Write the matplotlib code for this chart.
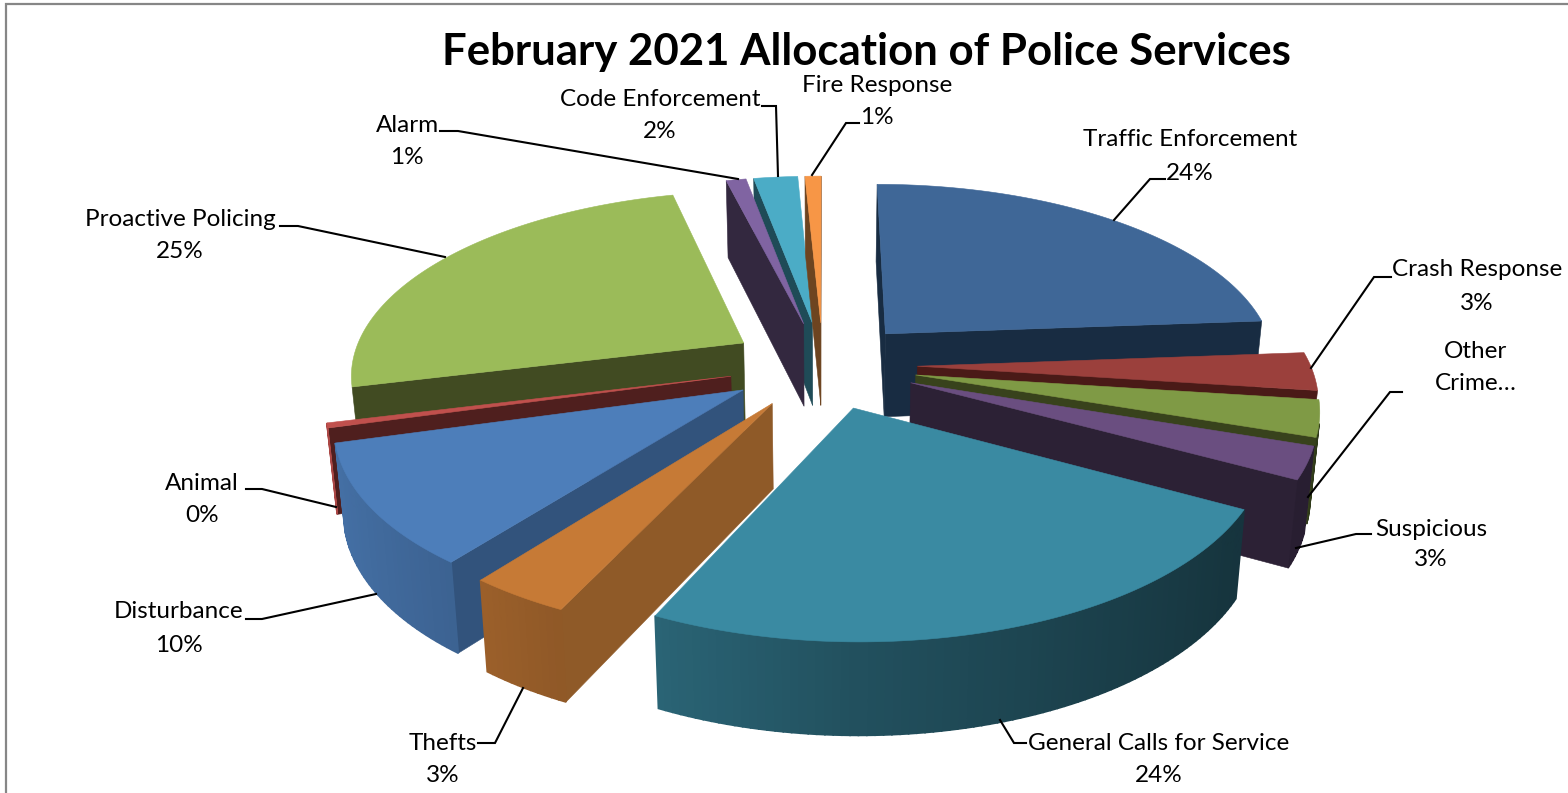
import numpy as np
import matplotlib
matplotlib.use("Agg")
import matplotlib.pyplot as plt
from matplotlib.colors import to_rgb
from matplotlib.patches import Polygon

plt.rcParams['font.family'] = ['Lato', 'DejaVu Sans']

# Slices in clockwise order from 12 o'clock
categories = ['Traffic Enforcement', 'Crash Response', 'Other\nCrime…', 'Suspicious',
              'General Calls for Service', 'Thefts', 'Disturbance', 'Animal',
              'Proactive Policing', 'Alarm', 'Code Enforcement', 'Fire Response']
shares = [23.8, 3.28, 3.11, 2.75, 24.06, 3.44, 10.25, 0.42, 25.0, 0.97, 2.14, 0.78]
show_percent = [True, True, False, True, True, True, True, True, True, True, True, True]

top_colors = ['#3f6797', '#9b403c', '#7f9a45', '#6a4e80', '#3a8aa2', '#c67a36',
              '#4d7eba', '#c0504d', '#9bbb59', '#8064a2', '#4bacc6', '#f79646']
wall_colors = ['#182c42', '#4a1a17', '#38421c', '#2c2135', '#163640', '#8f5a28',
               '#32537c', '#4f1f1e', '#414b22', '#33283f', '#1f4b57', '#6d4420']

# Label layout: centre x, first line y, second line y
label_pos = [(1190, 140, 173), (1477, 270, 303), (1476, 352, 384), (1431, 529, 560),
             (1159, 744, 776), (443, 744, 776), (179, 612, 645), (202, 483, 516),
             (180, 219, 251), (407, 125, 158), (660, 99, 132), (877, 85, 118)]
leaders = [[(1165, 179), (1150, 179), (1114, 220)],
           [(1391, 277), (1374, 277), (1311, 368)],
           [(1402, 392), (1390, 392), (1308, 497)],
           [(1371, 534), (1356, 534), (1296, 548)],
           [(1026, 743), (1014, 743), (1000, 720)],
           [(478, 743), (495, 743), (523, 688)],
           [(246, 619), (262, 619), (376, 594)],
           [(246, 489), (262, 489), (336, 507)],
           [(280, 226), (298, 226), (445, 257)],
           [(440, 131), (458, 131), (738, 179)],
           [(762, 106), (776, 106), (778, 176)],
           [(859, 123), (846, 123), (812, 175)]]

# Camera settings for the tilted pie
cx, cy = 823, 365
radius_x, radius_y = 393, 182
persp = 0.157
depth = 84
explode = 0.24
start_deg = 0


def project(x, y, down=0.0):
    w = 1 + persp * y
    px = cx + radius_x * x / (w * (1 + 0.02 * down))
    py = cy - radius_y * y / w + depth * down / np.sqrt(w)
    return px, py


def arc_shade(theta):
    # arc walls get darker going from the left side to the right side
    return np.interp(np.sin(theta), [-1, -0.5, 0, 0.85], [0.9, 0.75, 0.58, 0.38])


def signed_area(pts):
    pts = np.asarray(pts)
    x, y = pts[:, 0], pts[:, 1]
    return 0.5 * np.sum(x * np.roll(y, -1) - np.roll(x, -1) * y)


fig = plt.figure(figsize=(15.68, 7.93), dpi=100)
ax = fig.add_axes([0, 0, 1, 1])
ax.set_xlim(0, 1568)
ax.set_ylim(793, 0)
ax.axis('off')

# chart frame, only the top and left edges are in view
ax.plot([6.5, 6.5, 1568], [793, 4, 4], color='#868686', lw=1.6, solid_joinstyle='miter')

total = sum(shares)
edges = np.radians(start_deg + 360 * np.cumsum([0] + shares) / total)

slices = []
for i in range(len(shares)):
    t0, t1 = edges[i], edges[i + 1]
    mid = (t0 + t1) / 2
    ox, oy = explode * np.sin(mid), explode * np.cos(mid)
    n = max(2, int(np.degrees(t1 - t0)) + 1)
    thetas = np.linspace(t0, t1, n)
    xs = np.concatenate([[ox], ox + np.sin(thetas)])
    ys = np.concatenate([[oy], oy + np.cos(thetas)])
    slices.append((ys.mean(), i, thetas, xs, ys))

# painter's order, back slices first
slices.sort(key=lambda s: -s[0])

for _, i, thetas, xs, ys in slices:
    tx, ty = project(xs, ys)
    bx, by = project(xs, ys, 1.0)
    top_rgb = np.array(to_rgb(top_colors[i]))
    count = len(xs)
    walls = []
    for a in range(count):
        b = (a + 1) % count
        quad = [(tx[a], ty[a]), (tx[b], ty[b]), (bx[b], by[b]), (bx[a], by[a])]
        if signed_area(quad) >= 0:
            continue
        if a == 0 or b == 0:
            walls.append((min(ys[a], ys[b]), quad, wall_colors[i], 0.4))
        else:
            color = tuple(top_rgb * arc_shade((thetas[a - 1] + thetas[b - 1]) / 2))
            walls.append((min(ys[a], ys[b]), quad, color, 1.2))
    for _, quad, color, width in sorted(walls, key=lambda w: -w[0]):
        ax.add_patch(Polygon(quad, closed=True, facecolor=color, edgecolor=color, lw=width))
    ax.add_patch(Polygon(np.column_stack([tx, ty]), closed=True, facecolor=top_colors[i],
                         edgecolor=top_colors[i], lw=0.4))

for line in leaders:
    ax.plot([p[0] for p in line], [p[1] for p in line], color='black', lw=1.5,
            solid_joinstyle='miter')

for i, name in enumerate(categories):
    x, y1, y2 = label_pos[i]
    parts = name.split('\n')
    second = f'{round(shares[i])}%' if show_percent[i] else parts[-1]
    ax.text(x, y1, parts[0], ha='center', va='center', fontsize=17.5, color='black')
    ax.text(x, y2, second, ha='center', va='center', fontsize=17.5, color='black')

ax.text(866, 52, 'February 2021 Allocation of Police Services', ha='center', va='center',
        fontsize=31.5, fontweight='bold', color='black')

fig.savefig('out.png', dpi=100)
